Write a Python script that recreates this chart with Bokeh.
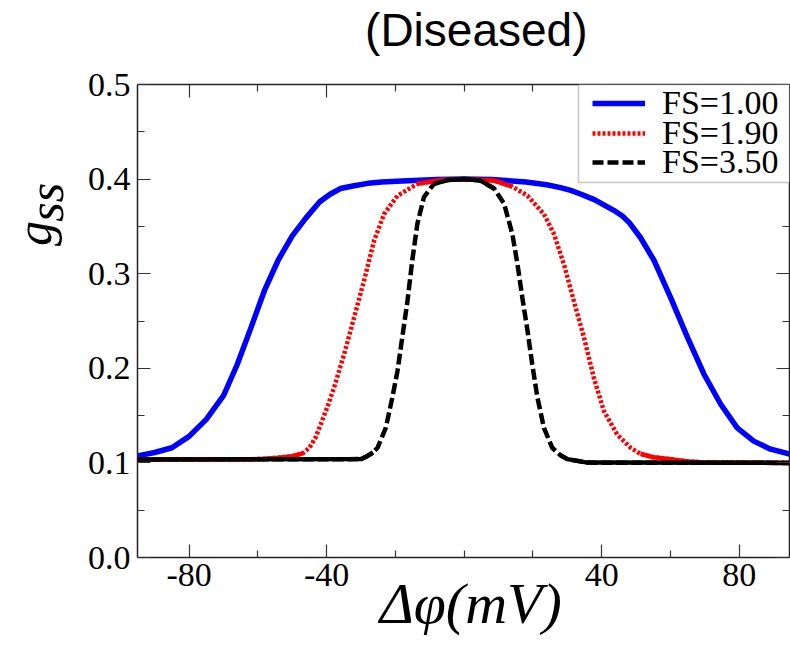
import math
from bokeh.plotting import figure
from bokeh.models import (Range1d, LinearAxis, FixedTicker, PrintfTickFormatter,
                          Legend, LegendItem, BoxAnnotation)
from bokeh.embed import file_html
from bokeh.resources import INLINE

# ---- data ----
x_fs100 = [-95, -90, -85, -80, -75, -70, -66, -62, -58, -54, -50, -46, -42, -39, -36, -32,
           -28, -24, -18, -8, 0, 8, 18, 24, 28, 31, 34, 38, 41, 43.5, 46, 48, 51.3, 55.2, 60,
           64.9, 69.7, 74.6, 79.4, 84.2, 89.1, 95]
g_fs100 = [0.1074, 0.111, 0.116, 0.128, 0.146, 0.171, 0.204, 0.243, 0.283, 0.315, 0.340,
           0.359, 0.376, 0.384, 0.390, 0.393, 0.3955, 0.397, 0.398, 0.3995, 0.400, 0.3995,
           0.397, 0.394, 0.391, 0.388, 0.384, 0.378, 0.372, 0.367, 0.361, 0.354, 0.338,
           0.314, 0.275, 0.233, 0.194, 0.162, 0.137, 0.123, 0.1145, 0.109]

x_fs190 = [-95, -63, -58, -54, -50, -47, -45, -43.2, -41.7, -39.7, -37.8, -34.9, -32,
           -29.1, -26.2, -23.3, -19.4, -13.6, -6.8, 0, 8.7, 14, 18.4, 23.2, 26.1, 29,
           31.9, 34.8, 37.7, 40.6, 44.5, 48.4, 51.3, 55, 60, 65, 70, 95]
g_fs190 = [0.1035, 0.1035, 0.1045, 0.1055, 0.107, 0.110, 0.116, 0.127, 0.141, 0.160,
           0.180, 0.215, 0.254, 0.293, 0.335, 0.363, 0.3825, 0.395, 0.399, 0.400, 0.3984,
           0.392, 0.3825, 0.363, 0.342, 0.310, 0.271, 0.233, 0.190, 0.155, 0.130, 0.116,
           0.1095, 0.106, 0.104, 0.1015, 0.1005, 0.100]

x_fs350 = [-95, -30, -28.1, -26.5, -25.2, -22.8, -20.9, -19.4, -18, -16.5, -15.1, -13.6,
           -11.7, -8.8, -4.9, 0, 4.8, 8.7, 11.6, 14, 15.5, 16.9, 18.4, 19.8, 21.3, 23.2,
           25.6, 28, 30, 35.8, 95]
g_fs350 = [0.1035, 0.104, 0.1074, 0.111, 0.116, 0.137, 0.169, 0.197, 0.233, 0.271, 0.314,
           0.353, 0.381, 0.395, 0.399, 0.400, 0.3984, 0.390, 0.374, 0.342, 0.310, 0.275,
           0.240, 0.204, 0.169, 0.137, 0.116, 0.108, 0.104, 0.1003, 0.100]

x_major = [-80, -40, 40, 80]
x_minor = [-60, -20, 0, 20, 60]
y_major = [0.0, 0.1, 0.2, 0.3, 0.4, 0.5]
y_minor = [0.05, 0.15, 0.25, 0.35, 0.45]
series_labels = ["FS=1.00", "FS=1.90", "FS=3.50"]
title_text = "(Diseased)"
x_label_text = "Δφ(mV)"
y_label_main, y_label_sub = "g", "ss"

SERIF = "Liberation Serif"
NB = "\u00a0"

p = figure(width=790, height=645, output_backend="svg", toolbar_location=None,
           x_range=Range1d(-95, 94.6), y_range=Range1d(0, 0.5),
           x_axis_location=None, y_axis_location=None,
           min_border_left=137, min_border_top=84, min_border_bottom=88, min_border_right=1)
p.outline_line_color = None
p.xgrid.visible = False
p.ygrid.visible = False
p.background_fill_color = "white"
p.border_fill_color = "white"


def style_axis(ax, major, minor, show, fmt):
    ax.ticker = FixedTicker(ticks=major, minor_ticks=minor)
    ax.axis_line_color = "#222222"
    ax.axis_line_width = 1.5
    ax.major_tick_in = 13
    ax.major_tick_out = 0
    ax.minor_tick_in = 7
    ax.minor_tick_out = 0
    ax.major_tick_line_color = "#333333"
    ax.minor_tick_line_color = "#333333"
    ax.major_tick_line_width = 1.2
    ax.minor_tick_line_width = 1.2
    if show:
        ax.formatter = PrintfTickFormatter(format=fmt)
        ax.major_label_text_font = SERIF
        ax.major_label_text_font_size = "34px"
        ax.major_label_text_color = "black"
    else:
        ax.major_label_overrides = {t: "" for t in major}
        ax.major_label_text_font_size = "0px"
        ax.major_label_standoff = 0


# bottom axis with the x label
xb = LinearAxis()
style_axis(xb, x_major, x_minor, True, "%d")
xb.major_label_standoff = 6
xb.axis_label = NB + x_label_text
xb.axis_label_text_font = SERIF
xb.axis_label_text_font_style = "italic"
xb.axis_label_text_font_size = "58px"
xb.axis_label_text_color = "black"
xb.axis_label_standoff = -18
p.add_layout(xb, "below")

# left axis with the two-part y label (g, subscript ss)
yl = LinearAxis()
style_axis(yl, y_major, y_minor, True, "%.1f")
yl.major_label_standoff = 7
yl.axis_label = NB * 14 + y_label_main + "\n" + NB * 19 + y_label_sub
yl.axis_label_text_font = SERIF
yl.axis_label_text_font_style = "italic"
yl.axis_label_text_font_size = "50px"
yl.axis_label_text_color = "black"
yl.axis_label_text_align = "left"
yl.axis_label_text_line_height = 0.22
yl.axis_label_standoff = 11
p.add_layout(yl, "left")

# top axis carrying the title as its label
xt = LinearAxis()
style_axis(xt, x_major, x_minor, False, None)
xt.axis_label = NB * 2 + title_text
xt.axis_label_text_font = "Liberation Sans"
xt.axis_label_text_font_style = "normal"
xt.axis_label_text_font_size = "46px"
xt.axis_label_text_color = "black"
xt.axis_label_standoff = 29
p.add_layout(xt, "above")

yr = LinearAxis()
style_axis(yr, y_major, y_minor, False, None)
p.add_layout(yr, "right")

r1 = p.line(x_fs100, g_fs100, line_color="#0000ff", line_width=5.5)
r2 = p.line(x_fs190, g_fs190, line_color="#ff0000", line_width=4.5, line_dash="3 2")
r3 = p.line(x_fs350, g_fs350, line_color="#000000", line_width=4.5, line_dash="11 4")


# the original plotting program draws the flat stretches of the patterned curves
# as continuous strokes; overlay those stretches (taken from the same data) solid
def flat_parts(xs, gs, lo=0.112, hi=0.388):
    ox, oy = [], []
    for i in range(len(xs) - 1):
        a_flat = gs[i] <= lo or gs[i] >= hi
        b_flat = gs[i + 1] <= lo or gs[i + 1] >= hi
        if a_flat and b_flat and ((gs[i] <= lo) == (gs[i + 1] <= lo)):
            if ox and ox[-1] == xs[i]:
                ox.append(xs[i + 1]); oy.append(gs[i + 1])
            else:
                if ox:
                    ox.append(math.nan); oy.append(math.nan)
                ox += [xs[i], xs[i + 1]]; oy += [gs[i], gs[i + 1]]
    return ox, oy


fx2, fy2 = flat_parts(x_fs190, g_fs190)
p.line(fx2, fy2, line_color="#ff0000", line_width=4.5)
fx3, fy3 = flat_parts(x_fs350, g_fs350)
p.line(fx3, fy3, line_color="#000000", line_width=4.5)

# legend frame, then one legend row per series (rows 30 px apart)
p.add_layout(BoxAnnotation(left=441, right=652, top=473, bottom=375,
                           left_units="screen", right_units="screen",
                           top_units="screen", bottom_units="screen",
                           fill_color="white", fill_alpha=1.0,
                           line_color="#444444", line_width=1.5))
row_bottoms = [434, 404, 375]
for lab, rend, vy in zip(series_labels, [r1, r2, r3], row_bottoms):
    lg = Legend(items=[LegendItem(label=lab, renderers=[rend])], location=(455, vy),
                margin=0, padding=0, spacing=0, glyph_width=53, glyph_height=40,
                label_height=40, label_standoff=17, label_text_font=SERIF,
                label_text_font_size="34px", label_text_color="black",
                border_line_color=None, background_fill_alpha=0.0)
    p.add_layout(lg)

open("out.html", "w").write(file_html(p, INLINE))
